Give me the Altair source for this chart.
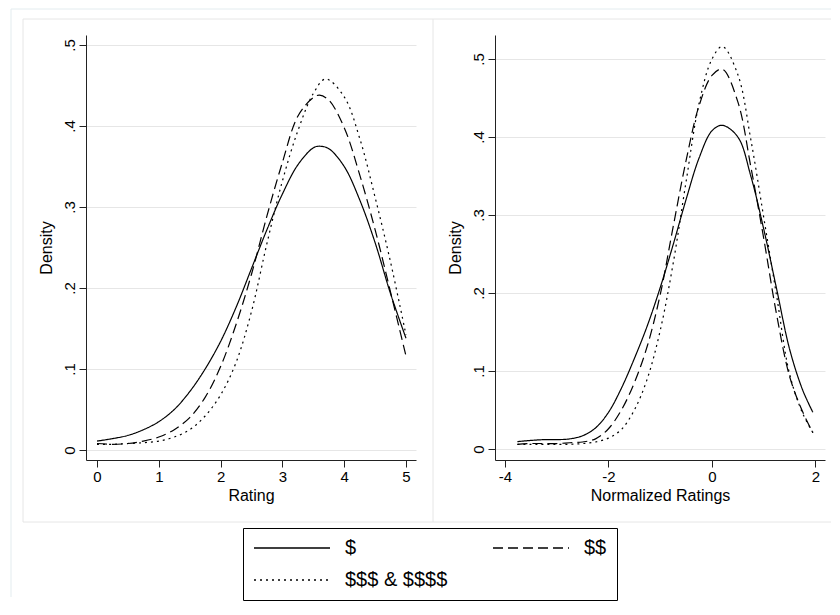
import altair as alt
import pandas as pd

FONT = "Liberation Sans"

series_names = ["$", "$$", "$$$ & $$$$"]

# Left panel: Rating
rating_x_a = [0.0, 0.25, 0.5, 0.75, 1.0, 1.25, 1.5, 1.75, 2.0, 2.25, 2.5, 2.75,
              3.0, 3.25, 3.5, 3.6, 3.75, 4.0, 4.25, 4.5, 4.75, 5.0]
rating_one = [0.011, 0.014, 0.018, 0.025, 0.035, 0.050, 0.072, 0.100, 0.134, 0.176, 0.224, 0.272,
              0.316, 0.352, 0.373, 0.375, 0.372, 0.350, 0.309, 0.256, 0.193, 0.138]
rating_two = [0.008, 0.007, 0.008, 0.011, 0.016, 0.025, 0.040, 0.065, 0.103, 0.155, 0.217, 0.289,
              0.355, 0.412, 0.435, 0.438, 0.432, 0.398, 0.340, 0.272, 0.195, 0.116]
rating_x_b = [0.0, 0.25, 0.5, 0.75, 1.0, 1.25, 1.5, 1.75, 2.0, 2.25, 2.5, 2.75,
              3.0, 3.25, 3.5, 3.7, 4.0, 4.25, 4.5, 4.75, 5.0]
rating_three = [0.007, 0.007, 0.008, 0.009, 0.011, 0.016, 0.025, 0.042, 0.068, 0.108, 0.171, 0.255,
                0.332, 0.394, 0.440, 0.458, 0.436, 0.385, 0.312, 0.232, 0.142]

# Right panel: Normalized Ratings
norm_x = [-3.76, -3.5, -3.25, -3.0, -2.75, -2.5, -2.25, -2.0, -1.75, -1.5, -1.25, -1.0,
          -0.75, -0.5, -0.25, 0.0, 0.2, 0.5, 0.75, 1.0, 1.25, 1.5, 1.75, 1.95]
norm_one = [0.0095, 0.011, 0.012, 0.012, 0.013, 0.017, 0.027, 0.047, 0.078, 0.116, 0.158, 0.207,
            0.262, 0.320, 0.373, 0.408, 0.415, 0.400, 0.350, 0.282, 0.205, 0.128, 0.076, 0.047]
norm_two = [0.006, 0.007, 0.007, 0.007, 0.008, 0.009, 0.013, 0.026, 0.050, 0.085, 0.132, 0.198,
            0.285, 0.370, 0.440, 0.479, 0.487, 0.445, 0.362, 0.270, 0.172, 0.093, 0.048, 0.021]
norm_three = [0.006, 0.006, 0.006, 0.006, 0.006, 0.007, 0.009, 0.014, 0.025, 0.050, 0.090, 0.152,
              0.238, 0.343, 0.443, 0.500, 0.516, 0.480, 0.397, 0.297, 0.196, 0.096, 0.046, 0.021]

y_ticks = [0, 0.1, 0.2, 0.3, 0.4, 0.5]
rating_ticks = [0, 1, 2, 3, 4, 5]
norm_ticks = [-4, -2, 0, 2]


def long_frame(pairs):
    rows = []
    for name, (xs, ys) in zip(series_names, pairs):
        for x, y in zip(xs, ys):
            rows.append({"x": x, "y": y, "series": name})
    return pd.DataFrame(rows)


left_df = long_frame([(rating_x_a, rating_one), (rating_x_a, rating_two), (rating_x_b, rating_three)])
right_df = long_frame([(norm_x, norm_one), (norm_x, norm_two), (norm_x, norm_three)])

dash_scale = alt.Scale(domain=series_names, range=[[1, 0], [10, 5], [2, 4]])

legend = alt.Legend(
    title=None, orient="none", legendX=157, legendY=493, columns=2, direction="horizontal",
    symbolType="stroke", symbolSize=5776, symbolStrokeWidth=1.3, symbolStrokeColor="black",
    clipHeight=20, labelFont=FONT, labelFontSize=20, labelColor="black", labelOffset=14,
    columnPadding=44, rowPadding=12, padding=10, strokeColor="black", labelLimit=300,
)

y_label_expr = "datum.value == 0 ? '0' : replace(format(datum.value, '.1f'), '0.', '.')"
x_label_expr = "datum.value < 0 ? '-' + format(-datum.value, 'd') : format(datum.value, 'd')"

deco_data = pd.DataFrame({"d": [0]})
OUTER = "#e3ecef"
PANEL = "#e6e6e6"


def hrule(x1, x2, y, color):
    return alt.Chart(deco_data).mark_rule(color=color, strokeWidth=1).encode(
        x=alt.value(x1), x2=alt.value(x2), y=alt.value(y))


def vrule(x, y1, y2, color):
    return alt.Chart(deco_data).mark_rule(color=color, strokeWidth=1).encode(
        x=alt.value(x), y=alt.value(y1), y2=alt.value(y2))


def lines(df, xdom, xvals, xtitle, ydom):
    return alt.Chart(df).mark_line(color="black", strokeWidth=1.2, interpolate="catmull-rom").encode(
        x=alt.X("x:Q", scale=alt.Scale(domain=xdom, nice=False, zero=False),
                axis=alt.Axis(values=xvals, title=xtitle, grid=False, labelExpr=x_label_expr,
                              tickSize=7, labelPadding=2, titlePadding=3)),
        y=alt.Y("y:Q", scale=alt.Scale(domain=ydom, nice=False, zero=False),
                axis=alt.Axis(values=y_ticks, title="Density", grid=True, labelAngle=270,
                              labelAlign="center", labelBaseline="alphabetic", labelPadding=5,
                              tickSize=7, labelExpr=y_label_expr, titlePadding=8)),
        strokeDash=alt.StrokeDash("series:N", scale=dash_scale, legend=legend),
    )


left = alt.layer(
    hrule(-75, 745, -26, OUTER),
    vrule(-75, -26, 562, OUTER),
    hrule(-63, 347, -16, PANEL),
    hrule(-63, 347, 487, PANEL),
    vrule(-63, -16, 487, PANEL),
    vrule(347, -16, 487, PANEL),
    lines(left_df, [-0.178, 5.162], rating_ticks, "Rating", [-0.01235, 0.5123]),
).properties(width=330, height=425)

right = alt.layer(
    hrule(-62, 336, -16, PANEL),
    hrule(-62, 336, 487, PANEL),
    lines(right_df, [-4.193, 2.184], norm_ticks, "Normalized Ratings", [-0.0141, 0.5308]),
).properties(width=330, height=425)

chart = alt.hconcat(left, right, spacing=79, bounds="flush").properties(
    padding={"left": 2, "top": 0, "right": 0, "bottom": 0}
).configure_view(stroke=None).configure_axis(
    labelFont=FONT, titleFont=FONT, labelFontSize=15, titleFontSize=16,
    titleFontWeight="normal", labelColor="black", titleColor="black",
    domainColor="#222", tickColor="#222", gridColor="#e6e6e6",
)

chart.save("out.html", embed_options={"renderer": "svg", "actions": False})
